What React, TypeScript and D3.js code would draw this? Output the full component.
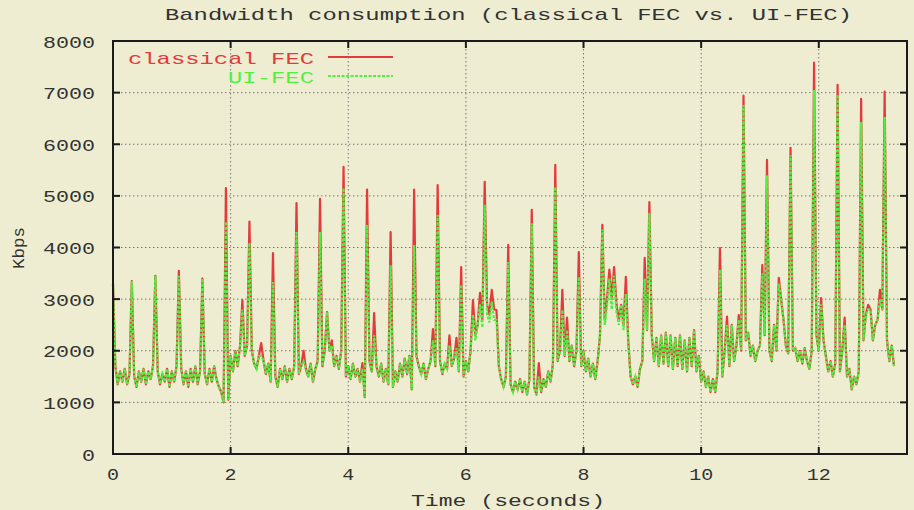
import React from 'react';
import * as d3 from 'd3';

// sampling step of the trace, in seconds
const TIME_STEP = 0.04;

// classical FEC, Kbps, one row per second (25 samples)
const classicalFec = [
  3300, 1700, 1350, 1600, 1400, 1650, 1350, 1550, 3350, 1500, 1300, 1600, 1400, 1650, 1350, 1600, 1450, 1700, 3450, 1600, 1350, 1550, 1400, 1650, 1300,
  1600, 1400, 1700, 3550, 1650, 1350, 1600, 1300, 1650, 1400, 1700, 1350, 1600, 3400, 1550, 1350, 1650, 1400, 1700, 1450, 1300, 1200, 1000, 5150, 1050,
  1900, 1600, 2000, 1700, 2100, 2980, 1900, 2100, 4500, 2000, 1750, 1650, 1900, 2150, 1800, 1550, 1750, 1400, 3890, 1500, 1300, 1650, 1450, 1700, 1400,
  1650, 1450, 1700, 4860, 1550, 1700, 2000, 1650, 1500, 1750, 1400, 1650, 1800, 4940, 1700, 2000, 2750, 2000, 2200, 1700, 1900, 1650, 2000, 5560, 1500,
  1700, 1450, 1750, 1500, 1650, 1400, 1760, 1100, 5120, 1800, 1600, 2730, 1700, 1500, 1750, 1400, 1650, 1350, 4300, 1300, 1600, 1400, 1750, 1500, 1850,
  1550, 1900, 1250, 5120, 1900, 1700, 1550, 1750, 1450, 1650, 1800, 2420, 1700, 5210, 1800, 1550, 1750, 1650, 2300, 1700, 1850, 2250, 1600, 3620, 1500,
  1800, 1600, 2000, 2980, 2300, 2500, 3120, 2600, 5270, 2900, 2700, 3180, 2800, 2790, 1700, 1450, 1300, 1500, 4050, 1350, 1200, 1400, 1250, 1450, 1200,
  1400, 1150, 1450, 4730, 1300, 1150, 1760, 1200, 1450, 1300, 1600, 1400, 1750, 5600, 1800, 2000, 3180, 1900, 2640, 1800, 2100, 1700, 2000, 3910, 1700,
  2000, 1600, 1850, 1500, 1750, 1450, 1800, 2300, 4440, 2600, 3000, 3570, 3000, 3620, 2900, 2600, 2890, 2500, 3430, 2200, 1500, 1350, 1500, 1300, 1650,
  1800, 3800, 2400, 4880, 2300, 1800, 2250, 1700, 2300, 1750, 2350, 1700, 2300, 1650, 2250, 1700, 2300, 1650, 2200, 1600, 2250, 1700, 2400, 1600, 1900,
  1400, 1600, 1300, 1500, 1200, 1450, 1200, 1600, 3990, 1500, 2000, 2660, 1700, 2500, 1800, 2100, 2690, 2000, 6940, 2200, 2350, 1900, 2100, 1800, 2000,
  2100, 3660, 2300, 5700, 2000, 1800, 2500, 2000, 3410, 3000, 2600, 2100, 1950, 5930, 2000, 2050, 1800, 2000, 1750, 2050, 1800, 1650, 2000, 7580, 2300,
  2000, 3020, 2200, 1900, 1600, 1800, 1500, 1750, 7150, 1600, 2000, 2640, 1500, 1650, 1250, 1500, 1350, 1600, 6880, 2200, 2700, 2890, 2800, 2200, 2500,
  2600, 3180, 2800, 7020, 2200, 1800, 2100, 1700,
];

// UI-FEC, Kbps, same sampling
const uiFec = [
  3300, 1700, 1350, 1600, 1400, 1650, 1350, 1550, 3350, 1500, 1300, 1600, 1400, 1650, 1350, 1600, 1450, 1700, 3450, 1600, 1350, 1550, 1400, 1650, 1300,
  1600, 1400, 1700, 3450, 1650, 1350, 1600, 1300, 1650, 1400, 1700, 1350, 1600, 3400, 1550, 1350, 1650, 1400, 1700, 1450, 1300, 1200, 1000, 4500, 1050,
  1900, 1600, 2000, 1700, 2100, 2800, 1900, 2100, 4090, 2000, 1750, 1650, 1900, 1900, 1800, 1550, 1750, 1400, 3330, 1500, 1300, 1650, 1450, 1700, 1400,
  1650, 1450, 1700, 4300, 1550, 1700, 1800, 1650, 1500, 1750, 1400, 1650, 1800, 4300, 1700, 2000, 2750, 2000, 2100, 1700, 1900, 1650, 2000, 5150, 1500,
  1700, 1450, 1750, 1500, 1650, 1400, 1650, 1100, 4440, 1800, 1600, 2300, 1700, 1500, 1750, 1400, 1650, 1350, 3660, 1300, 1600, 1400, 1750, 1500, 1850,
  1550, 1900, 1250, 4050, 1900, 1700, 1550, 1750, 1450, 1650, 1800, 2200, 1700, 4630, 1800, 1550, 1750, 1650, 2100, 1700, 1850, 2050, 1600, 3280, 1500,
  1800, 1600, 2000, 2700, 2200, 2500, 2900, 2450, 4830, 2700, 2550, 2950, 2600, 2600, 1700, 1450, 1300, 1500, 3720, 1350, 1200, 1400, 1250, 1450, 1200,
  1400, 1150, 1450, 4470, 1300, 1150, 1500, 1200, 1450, 1300, 1600, 1400, 1750, 5170, 1800, 2000, 2790, 1900, 2400, 1800, 2100, 1700, 2000, 3430, 1700,
  2000, 1600, 1850, 1500, 1750, 1450, 1800, 2300, 4350, 2500, 2850, 3400, 2800, 3450, 2750, 2500, 2890, 2400, 3100, 2200, 1500, 1350, 1500, 1300, 1650,
  1800, 3400, 2400, 4670, 2300, 1800, 2250, 1700, 2300, 1750, 2350, 1700, 2300, 1650, 2250, 1700, 2300, 1650, 2200, 1600, 2250, 1700, 2400, 1600, 1900,
  1400, 1600, 1300, 1500, 1200, 1450, 1200, 1600, 3570, 1500, 2000, 2500, 1700, 2500, 1800, 2100, 2600, 2000, 6760, 2200, 2350, 1900, 2100, 1800, 2000,
  2100, 3500, 2300, 5400, 2000, 1800, 2500, 2000, 3300, 3000, 2600, 2100, 1950, 5790, 2000, 2050, 1800, 2000, 1750, 2050, 1800, 1650, 2000, 7050, 2300,
  2000, 2900, 2200, 1900, 1600, 1800, 1500, 1750, 6960, 1600, 2000, 2500, 1500, 1650, 1250, 1500, 1350, 1600, 6430, 2200, 2700, 2800, 2800, 2200, 2500,
  2600, 3000, 2800, 6530, 2200, 1800, 2100, 1700,
];

const xTicks = [0, 2, 4, 6, 8, 10, 12];
const yTicks = [0, 1000, 2000, 3000, 4000, 5000, 6000, 7000, 8000];

const TITLE = 'Bandwidth consumption (classical FEC vs. UI-FEC)';
const X_LABEL = 'Time (seconds)';
const Y_LABEL = 'Kbps';
const SERIES_NAMES = ['classical FEC', 'UI-FEC'];

const W = 914;
const H = 510;
const PLOT = { left: 113, right: 907, top: 41, bottom: 454 };
const BG = '#eeedd2';
const RED = '#e23b3b';
const GREEN = '#50f040';
const FONT = '"Liberation Mono", "Courier New", monospace';

export default function App() {
  const x = d3.scaleLinear().domain([0, 13.5]).range([PLOT.left, PLOT.right]);
  const y = d3.scaleLinear().domain([0, 8000]).range([PLOT.bottom, PLOT.top]);

  const line = d3
    .line<number>()
    .x((_, i) => x(i * TIME_STEP))
    .y((d) => y(d));

  const tickLen = 7;

  return (
    <div style={{ position: 'absolute', left: 0, top: 0 }}>
      <svg width={W} height={H} style={{ display: 'block' }} fontFamily={FONT}>
        <rect width={W} height={H} fill={BG} />

        {/* grid */}
        <g stroke="#777" strokeWidth={1} strokeDasharray="1.5,2.5">
          {xTicks.slice(1).map((t) => (
            <line key={'gx' + t} x1={x(t)} x2={x(t)} y1={PLOT.top} y2={PLOT.bottom} />
          ))}
          {yTicks.slice(1, -1).map((t) => (
            <line key={'gy' + t} x1={PLOT.left} x2={PLOT.right} y1={y(t)} y2={y(t)} />
          ))}
        </g>

        {/* series */}
        <path d={line(classicalFec) ?? ''} fill="none" stroke={RED} strokeWidth={2.2} strokeLinejoin="round" />
        <path d={line(uiFec) ?? ''} fill="none" stroke={GREEN} strokeWidth={2.2} strokeDasharray="3,1.5" />

        {/* frame and ticks */}
        <rect
          x={PLOT.left}
          y={PLOT.top}
          width={PLOT.right - PLOT.left}
          height={PLOT.bottom - PLOT.top}
          fill="none"
          stroke="#1a1a1a"
          strokeWidth={2}
        />
        <g stroke="#1a1a1a" strokeWidth={2}>
          {xTicks.map((t) => (
            <g key={'tx' + t}>
              <line x1={x(t)} x2={x(t)} y1={PLOT.bottom} y2={PLOT.bottom - tickLen} />
              <line x1={x(t)} x2={x(t)} y1={PLOT.top} y2={PLOT.top + tickLen} />
            </g>
          ))}
          {yTicks.map((t) => (
            <g key={'ty' + t}>
              <line x1={PLOT.left} x2={PLOT.left + tickLen} y1={y(t)} y2={y(t)} />
              <line x1={PLOT.right} x2={PLOT.right - tickLen} y1={y(t)} y2={y(t)} />
            </g>
          ))}
        </g>

        {/* tick labels */}
        <g fill="#333" fontSize={17}>
          {yTicks.map((t) => {
            const s = String(t);
            return (
              <text
                key={'ly' + t}
                x={95}
                y={y(t) + 6.5}
                textAnchor="end"
                textLength={13 * s.length}
                lengthAdjust="spacingAndGlyphs"
              >
                {s}
              </text>
            );
          })}
          {xTicks.map((t) => {
            const s = String(t);
            return (
              <text
                key={'lx' + t}
                x={x(t)}
                y={480}
                textAnchor="middle"
                textLength={12 * s.length}
                lengthAdjust="spacingAndGlyphs"
              >
                {s}
              </text>
            );
          })}
        </g>

        {/* title and axis labels */}
        <text x={165} y={19.5} fontSize={17} fill="#333" textLength={687} lengthAdjust="spacingAndGlyphs">
          {TITLE}
        </text>
        <text x={411} y={506} fontSize={17} fill="#333" textLength={194} lengthAdjust="spacingAndGlyphs">
          {X_LABEL}
        </text>
        <text
          transform="translate(24,248) rotate(-90)"
          textAnchor="middle"
          fontSize={17}
          fill="#333"
          textLength={42}
          lengthAdjust="spacingAndGlyphs"
        >
          {Y_LABEL}
        </text>

        {/* legend */}
        <text x={314} y={63.5} fontSize={17} fill={RED} textAnchor="end" textLength={186} lengthAdjust="spacingAndGlyphs">
          {SERIES_NAMES[0]}
        </text>
        <line x1={328} x2={393} y1={57} y2={57} stroke={RED} strokeWidth={2.2} />
        <text x={314} y={82.5} fontSize={17} fill={GREEN} textAnchor="end" textLength={86} lengthAdjust="spacingAndGlyphs">
          {SERIES_NAMES[1]}
        </text>
        <line x1={328} x2={393} y1={76} y2={76} stroke={GREEN} strokeWidth={2} strokeDasharray="3,1.5" />
      </svg>
    </div>
  );
}
